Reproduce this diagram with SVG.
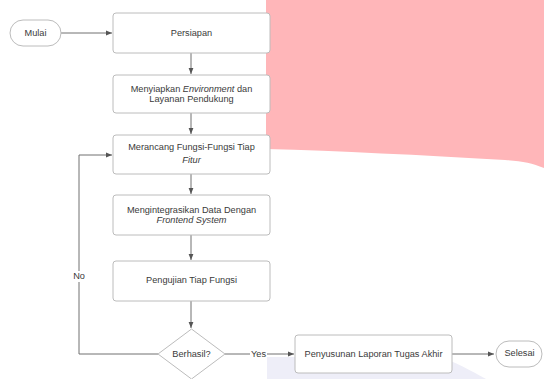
<svg xmlns="http://www.w3.org/2000/svg" width="544" height="379" viewBox="0 0 544 379">
<defs>
<style>
.box{fill:#fff;stroke:#bcbcbc;stroke-width:1}
.t{font-family:"Liberation Sans",Arial,sans-serif;font-size:9.2px;fill:#3a3a3a;text-anchor:middle;dominant-baseline:central}
.i{font-style:italic}
.c{fill:none;stroke:#707070;stroke-width:1}
</style>
<marker id="a" viewBox="0 0 10 10" refX="10" refY="5" markerWidth="6" markerHeight="6" orient="auto"><path d="M0,1 L10,5 L0,9 z" fill="#555"/></marker>
</defs>
<rect width="544" height="379" fill="#fff"/>
<path d="M266,0 H544 V168 C532,163 522,161 505,160 C420,155 340,151 266,149 Z" fill="#ffb6b9"/>
<path d="M267,357 H440 C455,362 470,370 486,379 H267 Z" fill="#eeeef8"/>
<g id="connectors">
<line class="c" x1="61" y1="33" x2="112" y2="33" marker-end="url(#a)"/>
<line class="c" x1="191" y1="53" x2="191" y2="74" marker-end="url(#a)"/>
<line class="c" x1="191" y1="113" x2="191" y2="134" marker-end="url(#a)"/>
<line class="c" x1="191" y1="174" x2="191" y2="194" marker-end="url(#a)"/>
<line class="c" x1="191" y1="235" x2="191" y2="260" marker-end="url(#a)"/>
<line class="c" x1="191" y1="301" x2="191" y2="328" marker-end="url(#a)"/>
<polyline class="c" points="158,354 79,354 79,155 112,155" marker-end="url(#a)"/>
<line class="c" x1="225" y1="354" x2="294" y2="354" marker-end="url(#a)"/>
<line class="c" x1="452" y1="354" x2="494" y2="354" marker-end="url(#a)"/>
<rect x="70" y="271" width="18" height="11" fill="#fff"/>
<text class="t" x="79" y="276">No</text>
<rect x="250" y="349" width="17" height="10" fill="#fff"/>
<text class="t" x="258.5" y="354">Yes</text>
</g>
<g id="mulai">
<rect class="box" x="10" y="20" width="51" height="26" rx="13"/>
<text class="t" x="35.5" y="33">Mulai</text>
</g>
<g id="persiapan">
<rect class="box" x="113" y="13" width="157" height="40" rx="3"/>
<text class="t" x="191.5" y="33">Persiapan</text>
</g>
<g id="menyiapkan">
<rect class="box" x="113" y="75" width="157" height="38" rx="3"/>
<text class="t" x="191.5" y="89">Menyiapkan <tspan class="i">Environment</tspan> dan</text>
<text class="t" x="191.5" y="99">Layanan Pendukung</text>
</g>
<g id="merancang">
<rect class="box" x="113" y="135" width="157" height="39" rx="3"/>
<text class="t" x="191.5" y="147">Merancang Fungsi-Fungsi Tiap</text>
<text class="t i" x="191.5" y="160">Fitur</text>
</g>
<g id="mengintegrasikan">
<rect class="box" x="113" y="195" width="157" height="40" rx="3"/>
<text class="t" x="191.5" y="210">Mengintegrasikan Data Dengan</text>
<text class="t i" x="191.5" y="220">Frontend System</text>
</g>
<g id="pengujian">
<rect class="box" x="113" y="261" width="157" height="40" rx="3"/>
<text class="t" x="191.5" y="280">Pengujian Tiap Fungsi</text>
</g>
<g id="berhasil">
<polygon class="box" points="191.5,329 225,354 191.5,379 158,354"/>
<text class="t" x="191.5" y="354">Berhasil?</text>
</g>
<g id="penyusunan">
<rect class="box" x="295" y="335" width="157" height="38" rx="3"/>
<text class="t" x="373.5" y="354">Penyusunan Laporan Tugas Akhir</text>
</g>
<g id="selesai">
<rect class="box" x="496" y="341" width="46" height="26" rx="13"/>
<text class="t" x="519.5" y="353">Selesai</text>
</g>
</svg>
